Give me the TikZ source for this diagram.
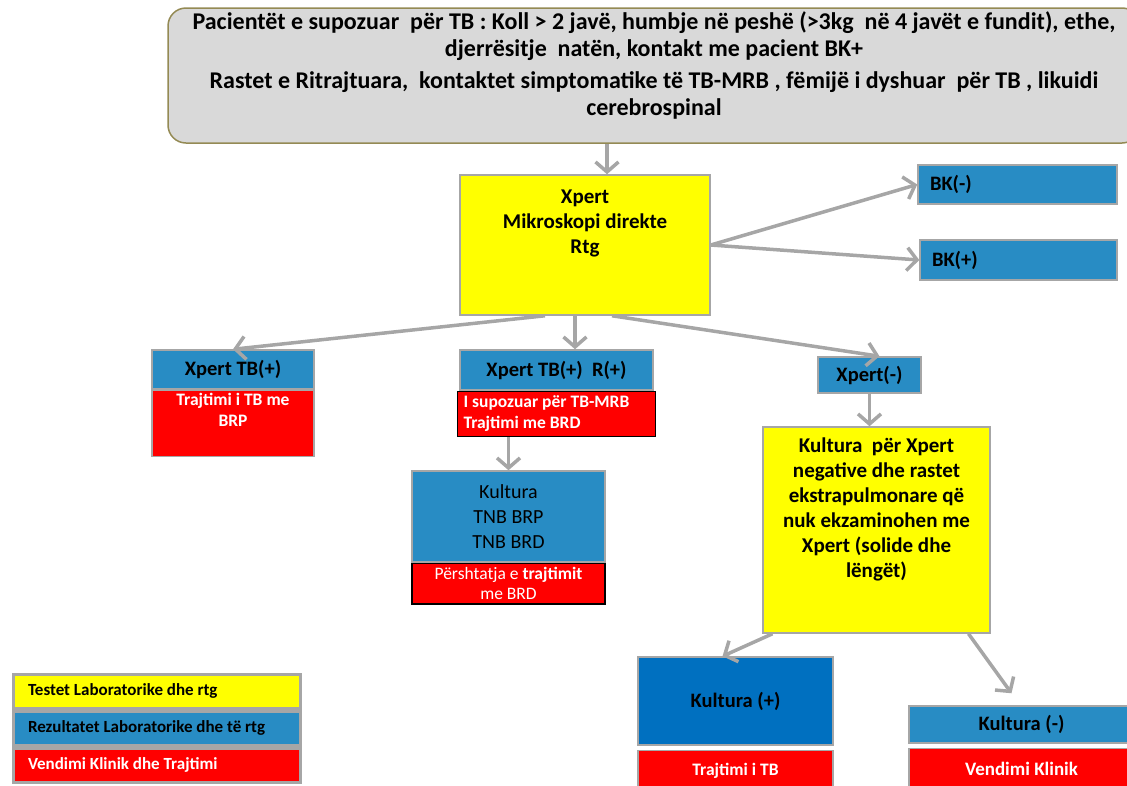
\documentclass[tikz,border=0pt]{standalone}
\usepackage{fontspec}
\setmainfont{Carlito}
\usetikzlibrary{arrows.meta,positioning}
\definecolor{tbyellow}{RGB}{255,255,0}
\definecolor{tbblue}{RGB}{40,140,196}
\definecolor{tbdark}{RGB}{0,112,192}
\definecolor{tbred}{RGB}{255,0,0}
\definecolor{tbgrey}{RGB}{166,166,166}
\definecolor{tbhead}{RGB}{217,217,217}
\definecolor{tbolive}{RGB}{148,138,84}
\tikzset{
  box/.style={draw=tbgrey, line width=1.5pt, rectangle, inner sep=4pt,
    font=\bfseries\fontsize{20.5}{25}\selectfont, align=center},
  testbox/.style={box, fill=tbyellow},
  resbox/.style={box, fill=tbblue},
  decbox/.style={box, fill=tbred, text=white,
    font=\bfseries\fontsize{17.5}{21}\selectfont},
  legbox/.style={line width=3pt, minimum width=287pt, minimum height=34pt,
    text width=257pt, align=flush left, font=\bfseries\fontsize{17}{20}\selectfont},
  txt/.style={align=center, font=\bfseries\fontsize{21}{25}\selectfont},
  hdrtxt/.style={align=center, font=\bfseries\fontsize{24}{27}\selectfont},
  dectxt/.style={align=center, text=white, font=\bfseries\fontsize{17.5}{21}\selectfont},
  arr/.style={draw=tbgrey, line width=3.5pt,
    -{Straight Barb[length=10pt,width=23pt]}}
}

\begin{document}
\begin{tikzpicture}[x=1pt, y=-1pt]
\useasboundingbox (0,0) rectangle (1127,785);
\clip (0,0) rectangle (1127,785);

% head of the chart
\node (hdr) [draw=tbolive, fill=tbhead, line width=1.5pt, rounded corners=18pt,
  minimum width=972pt, minimum height=135pt,
  label={[hdrtxt, below=1pt]north:{Pacientët e supozuar \ për TB : Koll > 2 javë, humbje në peshë (>3kg \ në 4 javët e fundit), ethe,\\
    djerrësitje \ natën, kontakt me pacient BK+\\[5pt]
    Rastet e Ritrajtuara, \ kontaktet simptomatike të TB-MRB , fëmijë i dyshuar \ për TB , likuidi\\
    cerebrospinal}}] at (654,75.5) {};

% first tests
\node (lab) [testbox, minimum width=250pt, minimum height=140pt,
  label={[txt, below=12pt]north:{Xpert\\Mikroskopi direkte\\Rtg}}] at (585,245) {};
\node (bkneg) [resbox, minimum width=199pt, minimum height=39pt,
  text width=175pt, align=flush left] at (1017.5,184.5) {BK(-)};
\node (bkpos) [resbox, minimum width=197pt, minimum height=40pt,
  text width=173pt, align=flush left] at (1018.5,260) {BK(+)};

% Xpert results
\node (xtb) [resbox, minimum width=162pt, minimum height=39pt] at (233,369.5) {Xpert TB(+)};
\node (xtbtx) [decbox, below=0pt of xtb, minimum width=162pt, minimum height=66pt,
  label={[dectxt, below=0pt]north:{Trajtimi i TB me\\BRP}}] {};
\node (xtbr) [resbox, minimum width=193pt, minimum height=40pt] at (556.5,370) {Xpert TB(+) \ R(+)};
\node (xtbrtx) [decbox, draw=black, below=0pt of xtbr, minimum width=198pt,
  minimum height=45pt, text width=186pt, align=flush left] {I supozuar për TB-MRB\\Trajtimi me BRD};
\node (kult) [resbox, font=\fontsize{20}{25}\selectfont, minimum width=193pt,
  minimum height=91pt] at (508.5,516.5) {Kultura\\TNB BRP\\TNB BRD};
\node (kulttx) [decbox, draw=black, below=0pt of kult, minimum width=193pt,
  minimum height=40pt, font=\fontsize{17.5}{20}\selectfont] {Përshtatja e \textbf{trajtimit}\\me BRD};
\node (xneg) [resbox, minimum width=103pt, minimum height=36pt] at (869.5,375) {Xpert(-)};

% culture
\node (cult) [testbox, minimum width=227pt, minimum height=206pt,
  label={[txt, below=8pt]north:{Kultura \ për Xpert\\negative dhe rastet\\ekstrapulmonare që\\nuk ekzaminohen me\\Xpert (solide dhe\\lëngët)}}] at (876.5,530) {};
\node (kpos) [resbox, fill=tbdark, minimum width=195pt, minimum height=88pt] at (735.5,701) {Kultura (+)};
\node (kpostx) [decbox, below=4pt of kpos, minimum width=195pt, minimum height=40pt] {Trajtimi i TB};
\node (kneg) [resbox, minimum width=225pt, minimum height=37pt] at (1021.5,724.5) {Kultura (-)};
\node (knegtx) [decbox, below=4pt of kneg, minimum width=225pt, minimum height=40pt,
  font=\bfseries\fontsize{19}{22}\selectfont] {Vendimi Klinik};

% legend
\node (lgtest) [testbox, legbox] at (156.5,691) {Testet Laboratorike dhe rtg};
\node (lgres) [resbox, legbox, below=0pt of lgtest] {Rezultatet Laboratorike dhe të rtg};
\node (lgdec) [decbox, legbox, below=0pt of lgres] {Vendimi Klinik dhe Trajtimi};

% arrows
\draw[arr] ([xshift=-47pt]hdr.south) -- ([xshift=-47pt]hdr.south |- lab.north);
\draw[arr] (lab.east) -- (bkneg.west);
\draw[arr] (lab.east) -- (bkpos.west);
\draw[arr] ([xshift=-40pt]lab.south) -- (xtb.north);
\draw[arr] ([xshift=-10pt]lab.south) -- ([xshift=-10pt]lab.south |- xtbr.north);
\draw[arr] ([xshift=27pt]lab.south) -- ([xshift=10pt]xneg.north);
\draw[arr] (xneg.south) -- (xneg.south |- cult.north);
\draw[arr] (kult.north |- xtbrtx.south) -- (kult.north);
\draw[arr] ([xshift=-104pt]cult.south) -- ([xshift=-13pt]kpos.north);
\draw[arr] ([xshift=92pt]cult.south) -- ([xshift=-10pt,yshift=12pt]kneg.north);

\end{tikzpicture}
\end{document}
